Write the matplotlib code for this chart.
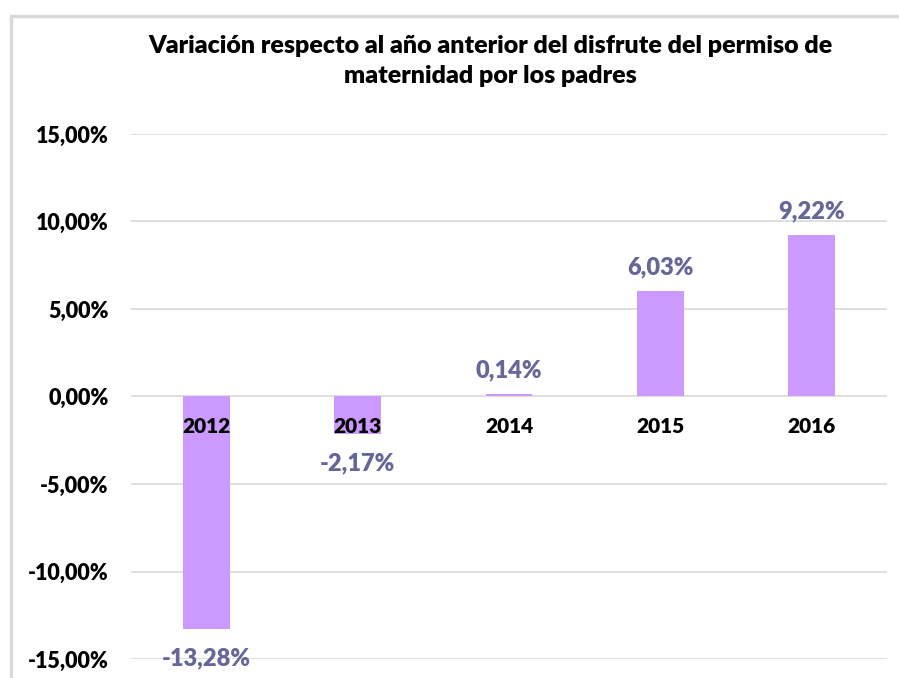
import matplotlib.pyplot as plt
from matplotlib.patches import Rectangle

years = ["2012", "2013", "2014", "2015", "2016"]
variation = [-13.28, -2.17, 0.14, 6.03, 9.22]
y_ticks = [-15, -10, -5, 0, 5, 10, 15]

BAR_COLOR = "#CC99FF"
LABEL_COLOR = "#666699"

plt.rcParams["font.family"] = ["Lato", "DejaVu Sans"]


def pct(v, decimals=2):
    return f"{v:.{decimals}f}".replace(".", ",") + "%"


fig = plt.figure(figsize=(8.99, 6.78), dpi=100)
ax = fig.add_axes([0.1457, 0.028, 0.841, 0.7744])

# marco del gráfico (recortado a la derecha y abajo)
fig.add_artist(Rectangle((11 / 899, -0.05), 1.2, 1 - 16 / 678 + 0.05,
                         transform=fig.transFigure, fill=False,
                         edgecolor="#d9d9d9", linewidth=2.5))

x = list(range(len(years)))
ax.bar(x, variation, width=0.31, color=BAR_COLOR, zorder=2)

for xi, v in zip(x, variation):
    if v >= 0:
        ax.annotate(pct(v), (xi, v), xytext=(0, 9), textcoords="offset points",
                    ha="center", va="bottom", fontsize=17, fontweight="heavy",
                    color=LABEL_COLOR)
    else:
        ax.annotate(pct(v), (xi, v), xytext=(0, -13), textcoords="offset points",
                    ha="center", va="top", fontsize=17, fontweight="heavy",
                    color=LABEL_COLOR)

# etiquetas de categoría sobre el eje cero
for xi, yr in zip(x, years):
    ax.annotate(yr, (xi, 0), xytext=(0, -15), textcoords="offset points",
                ha="center", va="top", fontsize=15, fontweight="heavy",
                color="black", zorder=3)

ax.set_xlim(-0.5, len(years) - 0.5)
ax.set_ylim(-15, 15)
ax.set_yticks(y_ticks)
ax.set_yticklabels([pct(t) for t in y_ticks], fontsize=15.5, fontweight="heavy")
ax.set_xticks([])
ax.tick_params(axis="y", length=0, pad=16)
ax.grid(axis="y", color="#d9d9d9", linewidth=1.2, zorder=0)
for s in ax.spines.values():
    s.set_visible(False)

fig.text(0.545, 0.910, "Variación respecto al año anterior del disfrute del permiso de\nmaternidad por los padres",
         ha="center", va="center", fontsize=18, fontweight="heavy", linespacing=1.45)

fig.savefig("out.png", dpi=100)
